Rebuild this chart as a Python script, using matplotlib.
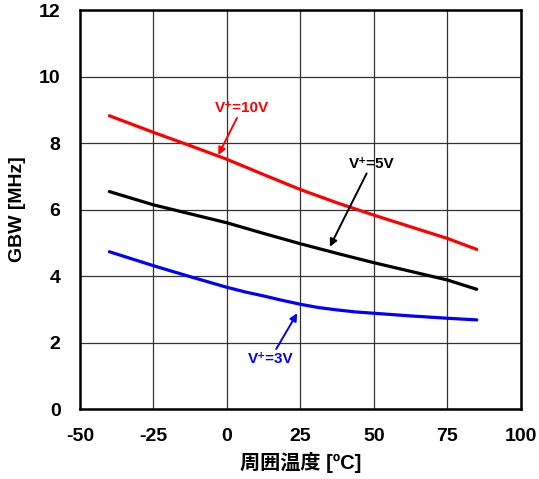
import numpy as np
import matplotlib
matplotlib.use('Agg')
import matplotlib.pyplot as plt

# GBW vs ambient temperature, three supply voltages
temp = [-40, -25, -12.5, 0, 12.5, 25, 37.5, 50, 62.5, 75, 85]
gbw_10v = [8.82, 8.32, 7.92, 7.51, 7.05, 6.6, 6.2, 5.83, 5.48, 5.13, 4.8]
gbw_5v = [6.54, 6.14, 5.87, 5.6, 5.28, 4.97, 4.68, 4.4, 4.14, 3.88, 3.6]
# 3V curve bends around room temperature, so it is read at finer steps
temp_3v = [-40, -25, -12.5, 0, 6.25, 12.5, 18.75, 25, 31.25, 37.5, 43.75, 50, 62.5, 75, 85]
gbw_3v = [4.73, 4.31, 3.98, 3.66, 3.52, 3.4, 3.27, 3.15, 3.05, 2.98, 2.92, 2.88, 2.8, 2.73, 2.68]

xticks = [-50, -25, 0, 25, 50, 75, 100]
yticks = [0, 2, 4, 6, 8, 10, 12]

fam = ['Liberation Sans', 'DejaVu Sans', 'Noto Sans CJK JP']
plt.rcParams['font.family'] = fam
plt.rcParams['font.weight'] = 'bold'
plt.rcParams['axes.unicode_minus'] = False

fig = plt.figure(figsize=(5.39, 4.79), dpi=100)
ax = fig.add_axes([0.1484, 0.1461, 0.818, 0.833])

ax.plot(temp, gbw_10v, color='#ff0000', lw=2.3, solid_capstyle='round', zorder=3)
ax.plot(temp, gbw_5v, color='black', lw=2.3, solid_capstyle='round', zorder=3)
ax.plot(temp_3v, gbw_3v, color='#0000ff', lw=2.3, solid_capstyle='round', zorder=3)

ax.set_xlim(-50, 100)
ax.set_ylim(0, 12)
ax.set_xticks(xticks)
ax.set_yticks(yticks)
ax.tick_params(length=0, labelsize=14, pad=14)
ax.grid(True, color='#333333', lw=0.9)
ax.set_axisbelow(True)
for s in ax.spines.values():
    s.set_linewidth(1.8)

ax.set_xlabel('周囲温度 [ºC]', fontsize=14.5, fontweight='bold', labelpad=5)
ax.set_ylabel('GBW [MHz]', fontsize=14, fontweight='bold', labelpad=9)

arr = dict(arrowstyle='-|>', lw=1.4, mutation_scale=11, shrinkA=0, shrinkB=0)
ax.annotate('V⁺=10V', xy=(-2.95, 7.64), xytext=(5.1, 8.84), color='#ff0000',
            fontsize=11, fontweight='bold', ha='center', va='bottom',
            arrowprops=dict(arr, color='#ff0000'))
ax.annotate('V⁺=5V', xy=(35, 4.88), xytext=(49.2, 7.17), color='black',
            fontsize=11, fontweight='bold', ha='center', va='bottom',
            arrowprops=dict(arr, color='black'))
ax.annotate('V⁺=3V', xy=(23.9, 2.88), xytext=(14.8, 1.72), color='#0000ff',
            fontsize=11, fontweight='bold', ha='center', va='top',
            arrowprops=dict(arr, color='#0000ff'))

fig.savefig('out.png', dpi=100)
